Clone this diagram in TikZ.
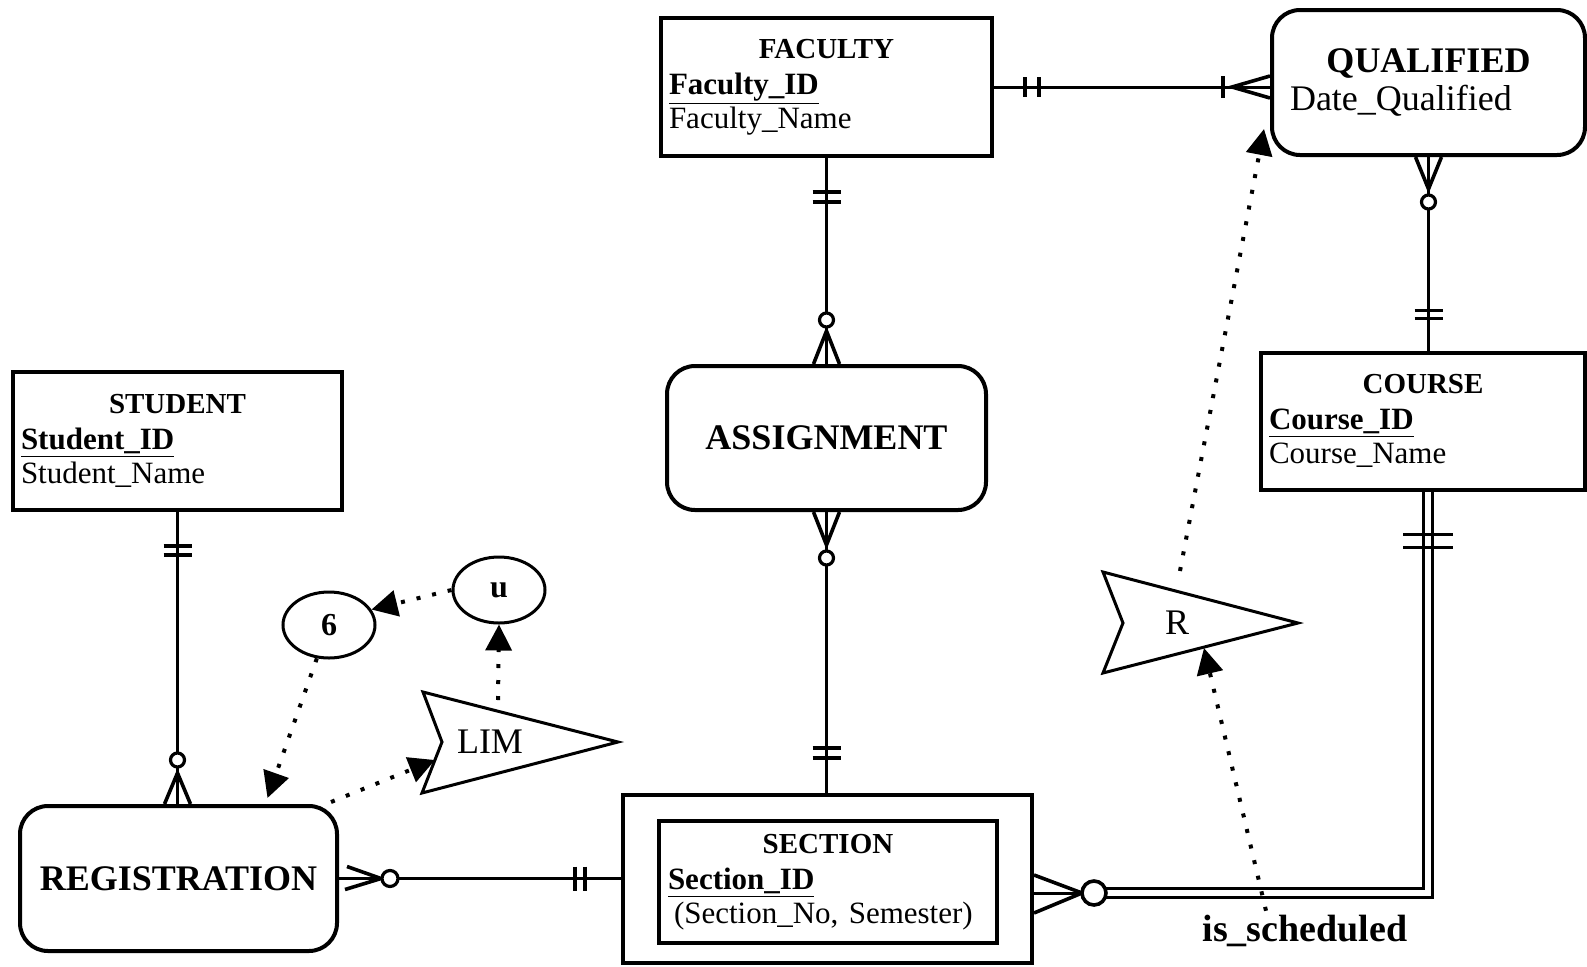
\documentclass[tikz,border=0pt]{standalone}
\usepackage{fontspec}
\setmainfont{Liberation Serif}
\usetikzlibrary{calc,arrows.meta,shapes.geometric}
\tikzset{
  ent/.style={draw, line width=2pt, inner xsep=4pt, inner ysep=0pt, align=left,
    font=\fontsize{15.5}{17}\selectfont},
  assoc/.style={draw, line width=2pt, rounded corners=14pt, inner sep=0pt, align=center,
    font=\fontsize{18}{18}\selectfont\bfseries},
  rel/.style={draw, line width=1.5pt},
  foot/.style={draw, line width=1.8pt},
  opt/.style={draw, line width=1.6pt, fill=white},
  flow/.style={draw, line width=2pt, dash pattern=on 2pt off 6pt,
    -{Triangle[length=13pt,width=13pt]}},
  op/.style={draw, line width=1.5pt, ellipse, minimum width=46pt, minimum height=33pt,
    inner sep=0pt, font=\fontsize{16}{16}\selectfont\bfseries},
  opshape/.style={draw, line width=1.5pt, line join=miter},
  oplab/.style={inner sep=1pt, font=\fontsize{18}{18}\selectfont},
}
\newcommand{\enttitle}[1]{{\centering\fontsize{14.5}{16}\selectfont\bfseries #1\par}\vspace{1pt}}
\newcommand{\pkey}[1]{\underline{\textbf{#1}}}

\begin{document}
\begin{tikzpicture}[x=0.5pt,y=-0.5pt]
  \useasboundingbox (0,0) rectangle (1587,966);

  % entities
  \node[ent, text width=157.5pt, minimum height=69pt] (faculty) at (826.5,87)
    {\enttitle{FACULTY}\pkey{Faculty\_ID}\\Faculty\_Name};
  \node[ent, text width=156.5pt, minimum height=69pt] (student) at (177.5,441)
    {\enttitle{STUDENT}\pkey{Student\_ID}\\Student\_Name};
  \node[ent, text width=154pt, minimum height=68.5pt] (course) at (1423,421)
    {\enttitle{COURSE}\pkey{Course\_ID}\\Course\_Name};
  \node[draw, line width=2pt, inner sep=0pt, minimum width=204.5pt, minimum height=84pt]
    (section) at (827.5,879) {};
  \node[ent, inner xsep=4.5pt, text width=160pt, minimum height=61pt] (sectionid) at (828,882)
    {\enttitle{SECTION}\pkey{Section\_ID}\\\hspace*{3pt}(Section\_No, Semester)};

  % associative entities
  \node[assoc, align=left, inner xsep=9pt, text width=138.5pt, minimum height=72.5pt,
    font=\fontsize{18}{19}\selectfont] (qualified) at (1428.5,82.5)
    {{\centering\bfseries QUALIFIED\par}Date\_Qualified};
  \node[assoc, minimum width=159.5pt, minimum height=72pt] (assignment) at (826.5,438) {ASSIGNMENT};
  \node[assoc, minimum width=158.5pt, minimum height=72.5pt] (registration) at (178.5,878.5) {REGISTRATION};

  % FACULTY -- QUALIFIED
  \coordinate (fq) at (faculty.east -| qualified.west);
  \draw[rel] (faculty.east) -- (fq);
  \draw[foot] ($(faculty.east)+(31,-10)$) -- ++(0,20);
  \draw[foot] ($(faculty.east)+(45,-10)$) -- ++(0,20);
  \draw[foot] ($(fq)+(-47,-11)$) -- ++(0,22);
  \draw[foot] ($(fq)+(0,-11)$) -- ($(fq)+(-38,0)$) -- ($(fq)+(0,11)$);

  % QUALIFIED -- COURSE
  \coordinate (qc) at (qualified.south |- course.north);
  \draw[rel] (qualified.south) -- (qc);
  \draw[foot] ($(qualified.south)+(-13,0)$) -- ($(qualified.south)+(0,32)$) -- ($(qualified.south)+(13,0)$);
  \draw[opt] ($(qualified.south)+(0,45)$) circle (3.5pt);
  \draw[foot] ($(qc)+(-14,-40)$) -- ++(28,0);
  \draw[foot] ($(qc)+(-14,-32)$) -- ++(28,0);

  % FACULTY -- ASSIGNMENT
  \coordinate (fa) at (faculty.south |- assignment.north);
  \draw[rel] (faculty.south) -- (fa);
  \draw[foot] ($(faculty.south)+(-14,34)$) -- ++(28,0);
  \draw[foot] ($(faculty.south)+(-14,44)$) -- ++(28,0);
  \draw[foot] ($(fa)+(-13,0)$) -- ($(fa)+(0,-33)$) -- ($(fa)+(13,0)$);
  \draw[opt] ($(fa)+(0,-44)$) circle (3.5pt);

  % ASSIGNMENT -- SECTION
  \coordinate (as) at (assignment.south |- section.north);
  \draw[rel] (assignment.south) -- (as);
  \draw[foot] ($(assignment.south)+(-13,0)$) -- ($(assignment.south)+(0,33)$) -- ($(assignment.south)+(13,0)$);
  \draw[opt] ($(assignment.south)+(0,46)$) circle (3.5pt);
  \draw[foot] ($(as)+(-14,-45)$) -- ++(28,0);
  \draw[foot] ($(as)+(-14,-35)$) -- ++(28,0);

  % STUDENT -- REGISTRATION
  \coordinate (sr) at (student.south |- registration.north);
  \draw[rel] (student.south) -- (sr);
  \draw[foot] ($(student.south)+(-14,34)$) -- ++(28,0);
  \draw[foot] ($(student.south)+(-14,43)$) -- ++(28,0);
  \draw[foot] ($(sr)+(-13,0)$) -- ($(sr)+(0,-31)$) -- ($(sr)+(13,0)$);
  \draw[opt] ($(sr)+(0,-44)$) circle (3.5pt);

  % REGISTRATION -- SECTION
  \coordinate (rs) at (registration.east -| section.west);
  \draw[rel] (registration.east) -- (rs);
  \draw[foot] ($(registration.east)+(8,-12)$) -- ($(registration.east)+(42,0)$) -- ($(registration.east)+(6,11)$);
  \draw[opt] ($(registration.east)+(51,0)$) circle (4pt);
  \draw[foot] ($(rs)+(-46,-12)$) -- ++(0,24);
  \draw[foot] ($(rs)+(-36,-12)$) -- ++(0,24);

  % SECTION -- COURSE (total participation)
  \coordinate (sc) at ($(section.east)+(0,14)$);
  \coordinate (cs) at ($(course.south)+(5,0)$);
  \draw[rel] (sc) -- ++(60,0);
  \draw[rel, double, double distance=3pt] ($(sc)+(72,0)$) -- (sc -| cs) -- (cs);
  \draw[foot] ($(sc)+(0,-18)$) -- ($(sc)+(48,0)$) -- ($(sc)+(0,20)$);
  \draw[opt, line width=1.8pt] ($(sc)+(60,0)$) circle (6pt);
  \draw[foot] ($(cs)+(-25,43)$) -- ++(50,0);
  \draw[foot] ($(cs)+(-25,56)$) -- ++(50,0);
  \node[inner sep=2pt, font=\fontsize{19}{19}\selectfont\bfseries] (sched) at (1305,931) {is\_scheduled};

  % operators
  \node[oplab] (rop) at (1177,623) {R};
  \draw[opshape] ($(rop)+(-74,-51)$) -- ($(rop)+(-54,0)$) -- ($(rop)+(-74,50)$) -- ($(rop)+(121,0)$) -- cycle;
  \node[oplab, font=\fontsize{18}{18}\selectfont] (lim) at (490,742) {LIM};
  \draw[opshape] ($(lim)+(-67,-50)$) -- ($(lim)+(-48,0)$) -- ($(lim)+(-68,51)$) -- ($(lim)+(128,0)$) -- cycle;
  \node[op] (sixop) at (329,625) {6};
  \node[op] (uop) at (499,590) {u};

  % flows
  \draw[flow] ($(sched.north)+(-39,0)$) -- ($(rop)+(27,25)$);
  \draw[flow] ($(rop)+(3,-52)$) -- ($(qualified.south west)+(-6,-28)$);
  \draw[flow] (uop.west) -- (sixop.20);
  \draw[flow] ($(lim)+(8,-42)$) -- (uop.south);
  \draw[flow] (sixop.250) -- ($(registration.north)+(89,-6)$);
  \draw[flow] ($(registration.north east)+(-8,-2)$) -- ($(lim)+(-55,18)$);
\end{tikzpicture}
\end{document}
